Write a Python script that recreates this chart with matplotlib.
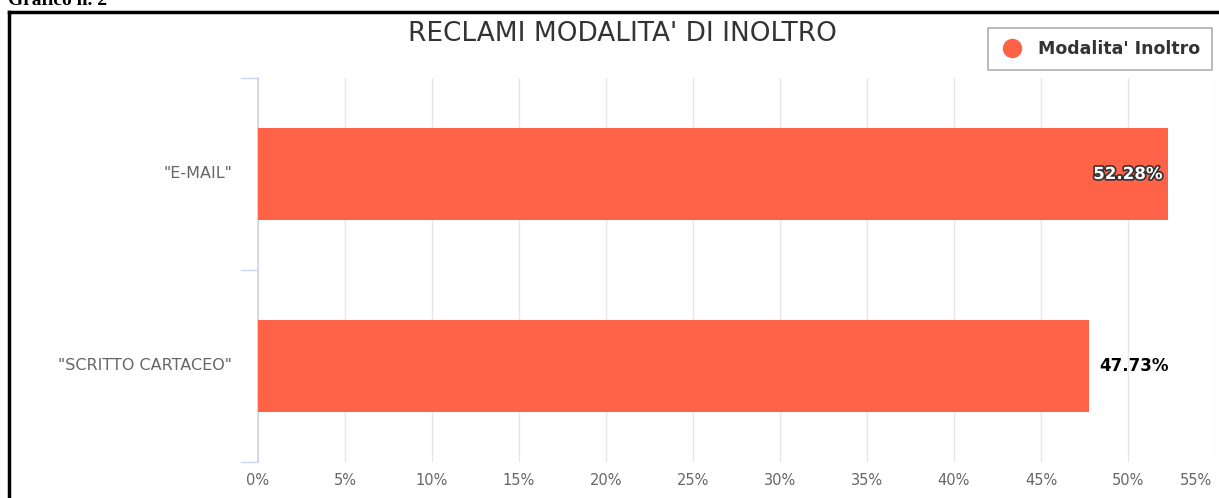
import matplotlib.pyplot as plt
import matplotlib.patheffects as pe
from matplotlib.lines import Line2D

categorie = ['"SCRITTO CARTACEO"', '"E-MAIL"']
valori = [47.73, 52.28]
etichette = ['47.73%', '52.28%']
tick_x = [0, 5, 10, 15, 20, 25, 30, 35, 40, 45, 50, 55]

colore = '#ff6347'
grigio = '#666666'

fig = plt.figure(figsize=(12.19, 4.98), dpi=100)
ax = fig.add_axes([258 / 1219, 1 - 462 / 498, (1215 - 258) / 1219, (462 - 78) / 498])

ax.barh(range(len(categorie)), valori, height=0.48, color=colore, zorder=3)
ax.set_xlim(0, 55)
ax.set_ylim(-0.5, 1.5)

# griglia verticale
ax.set_xticks(tick_x)
ax.set_xticklabels([])
ax.grid(axis='x', color='#e6e6e6', linewidth=1, zorder=0)
ax.tick_params(axis='x', length=0)
for t in tick_x:
    xx = t if t < 55 else 53.9
    ax.text(xx, -0.555, f'{t}%', ha='center', va='top',
            fontsize=10.5, color=grigio, fontfamily='DejaVu Sans')

# asse categorie
ax.set_yticks([-0.5, 0.5, 1.5])
ax.set_yticklabels([])
ax.tick_params(axis='y', length=12, color='#ccd6eb', width=1)
for i, c in enumerate(categorie):
    ax.text(-0.027, i, c, transform=ax.get_yaxis_transform(), ha='right', va='center',
            fontsize=11.5, color=grigio, fontfamily='DejaVu Sans')

for s in ['top', 'right', 'bottom']:
    ax.spines[s].set_visible(False)
ax.spines['left'].set_color('#ccd6eb')
ax.spines['left'].set_linewidth(1.2)

# etichette dati
ax.text(valori[1] - 0.3, 1, etichette[1], ha='right', va='center', fontsize=12,
        fontweight='bold', color='white', fontfamily='DejaVu Sans', zorder=5,
        path_effects=[pe.withStroke(linewidth=2.4, foreground='#333333')])
ax.text(valori[0] + 0.6, 0, etichette[0], ha='left', va='center', fontsize=12,
        fontweight='bold', color='black', fontfamily='DejaVu Sans', zorder=5)

# titolo
fig.text(622 / 1219, 1 - 34 / 498, "RECLAMI MODALITA' DI INOLTRO", ha='center', va='center',
         fontsize=19, color='#333333', fontfamily='DejaVu Sans')

# legenda
handle = Line2D([], [], marker='o', linestyle='none', markersize=13, color=colore)
leg = fig.legend([handle], ["Modalita' Inoltro"], loc='upper right',
                 bbox_to_anchor=(1212 / 1219, 1 - 28 / 498), frameon=True, fancybox=False,
                 prop={'family': 'DejaVu Sans', 'weight': 'bold', 'size': 12.5},
                 handletextpad=0.8, borderpad=0.68, handlelength=1.4, borderaxespad=0)
leg.get_frame().set_edgecolor('#999999')
leg.get_frame().set_linewidth(1.2)
for t in leg.get_texts():
    t.set_color('#333333')

# cornice del documento
fig.add_artist(Line2D([9 / 1219, 9 / 1219], [0, 1 - 12 / 498], transform=fig.transFigure,
                      color='black', linewidth=2.5))
fig.add_artist(Line2D([9 / 1219, 1], [1 - 12 / 498, 1 - 12 / 498], transform=fig.transFigure,
                      color='black', linewidth=2.5))
fig.text(8 / 1219, 1 - 5 / 498, 'Grafico n. 2', ha='left', va='baseline', fontsize=14,
         fontweight='bold', fontfamily='Liberation Serif', color='black')

fig.savefig('out.png', dpi=100)
